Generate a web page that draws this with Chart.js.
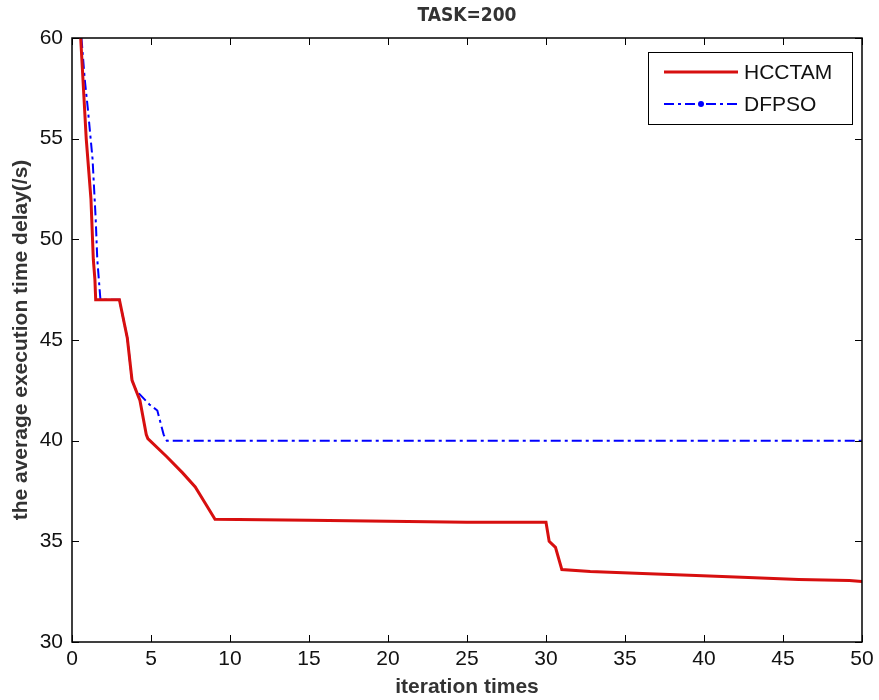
<!DOCTYPE html>
<html>
<head>
<meta charset="utf-8">
<script src="https://cdn.jsdelivr.net/npm/chart.js@4.4.1/dist/chart.umd.min.js"></script>
<style>
  html, body { margin: 0; padding: 0; background: #fff; }
  #wrap { width: 879px; height: 700px; }
</style>
</head>
<body>
<div id="wrap"><canvas id="chart" width="879" height="700"></canvas></div>
<script>
// valores
const hcctamX = [0.55, 0.9, 1.2, 1.35, 1.45, 1.5, 3.0, 3.5, 3.8, 4.3, 4.7, 4.8, 6, 7, 7.8, 8.5, 9.05, 15, 20, 25, 30.0, 30.2, 30.6, 31.0, 32.8, 36.1, 39.5, 42.8, 46.0, 49.2, 50];
const hcctamY = [60, 55, 52, 49, 48, 47, 47, 45.1, 43, 42, 40.3, 40.1, 39.2, 38.4, 37.7, 36.8, 36.1, 36.05, 36.0, 35.95, 35.95, 35.0, 34.7, 33.6, 33.5, 33.4, 33.3, 33.2, 33.1, 33.05, 33.0];
const dfpsoX = [0.6, 0.8, 1.0, 1.3, 1.5, 1.6, 1.8, 3.0, 3.5, 3.8, 4.05, 4.9, 5.4, 5.8, 6.0, 50];
const dfpsoY = [60, 58, 56.5, 54, 51, 49, 47, 47, 45.1, 43, 42.5, 41.8, 41.5, 40.3, 40, 40];
const xTicks = [0, 5, 10, 15, 20, 25, 30, 35, 40, 45, 50];
const yTicks = [30, 35, 40, 45, 50, 55, 60];

const FONT = "'Liberation Sans', Arial, sans-serif";
const NARROW = "'Liberation Sans Narrow', 'Arial Narrow', 'DejaVu Sans Condensed', sans-serif";
const toPts = (xs, ys) => xs.map((x, i) => ({ x, y: ys[i] }));

// caja + marcas hacia dentro (estilo MATLAB) y leyenda
const matlabBox = {
  id: "matlabBox",
  afterDraw(chart) {
    const { ctx, chartArea: a, scales } = chart;
    const len = 7;
    ctx.save();
    ctx.strokeStyle = "#000";
    ctx.lineWidth = 1;
    ctx.beginPath();
    xTicks.forEach((t) => {
      const x = Math.round(scales.x.getPixelForValue(t)) + 0.5;
      ctx.moveTo(x, a.bottom); ctx.lineTo(x, a.bottom - len);
      ctx.moveTo(x, a.top); ctx.lineTo(x, a.top + len);
    });
    yTicks.forEach((t) => {
      const y = Math.round(scales.y.getPixelForValue(t)) + 0.5;
      ctx.moveTo(a.left, y); ctx.lineTo(a.left + len, y);
      ctx.moveTo(a.right, y); ctx.lineTo(a.right - len, y);
    });
    ctx.stroke();
    ctx.lineWidth = 1.5;
    ctx.strokeRect(a.left, a.top, a.right - a.left, a.bottom - a.top);

    // leyenda
    const lx = 648, ly = 52, lw = 204, lh = 72;
    ctx.fillStyle = "#fff";
    ctx.fillRect(lx, ly, lw, lh);
    ctx.lineWidth = 1;
    ctx.strokeRect(lx + 0.5, ly + 0.5, lw, lh);
    chart.data.datasets.forEach((ds, i) => {
      const y = ly + 20 + i * 32;
      ctx.strokeStyle = ds.borderColor;
      ctx.lineWidth = ds.borderWidth;
      ctx.setLineDash(ds.borderDash || []);
      ctx.beginPath();
      ctx.moveTo(lx + 16, y);
      ctx.lineTo(lx + 90, y);
      ctx.stroke();
      ctx.setLineDash([]);
      if (i === 1) {
        ctx.fillStyle = ds.borderColor;
        ctx.beginPath();
        ctx.arc(lx + 53, y, 3, 0, Math.PI * 2);
        ctx.fill();
      }
      ctx.fillStyle = "#111";
      ctx.font = "21px " + FONT;
      ctx.textBaseline = "middle";
      ctx.fillText(ds.label, lx + 96, y + 1);
    });
    ctx.restore();
  },
};

new Chart(document.getElementById("chart"), {
  type: "line",
  data: {
    datasets: [
      {
        label: "HCCTAM",
        data: toPts(hcctamX, hcctamY),
        borderColor: "rgb(215,15,15)",
        borderWidth: 3,
        pointRadius: 0,
        tension: 0,
      },
      {
        label: "DFPSO",
        data: toPts(dfpsoX, dfpsoY),
        borderColor: "#0000ff",
        borderWidth: 2,
        borderDash: [10, 4, 3, 4],
        pointRadius: 0,
        tension: 0,
      },
    ],
  },
  options: {
    responsive: false,
    animation: false,
    layout: { padding: { left: 0, right: 17, top: 0, bottom: 0 } },
    plugins: {
      legend: { display: false },
      tooltip: { enabled: false },
      title: {
        display: true,
        text: "TASK=200",
        fullSize: false,
        color: "#333",
        font: { family: NARROW, size: 19, weight: "bold" },
        padding: { top: 5, bottom: 10.2 },
      },
    },
    scales: {
      x: {
        type: "linear",
        min: 0,
        max: 50,
        afterBuildTicks: (s) => { s.ticks = xTicks.map((v) => ({ value: v })); },
        afterFit: (s) => { s.height = 58; },
        grid: { display: false, drawTicks: false },
        border: { display: false },
        ticks: { color: "#111", font: { family: FONT, size: 21 }, padding: 5, maxRotation: 0 },
        title: {
          display: true,
          text: "iteration times",
          color: "#333",
          font: { family: FONT, size: 21, weight: "bold" },
          padding: { top: 1, bottom: 0 },
        },
      },
      y: {
        min: 30,
        max: 60,
        afterBuildTicks: (s) => { s.ticks = yTicks.map((v) => ({ value: v })); },
        afterFit: (s) => { s.width = 72; },
        grid: { display: false, drawTicks: false },
        border: { display: false },
        ticks: { color: "#111", font: { family: FONT, size: 21 }, padding: 9 },
        title: {
          display: true,
          text: "the average execution time delay(/s)",
          color: "#333",
          font: { family: FONT, size: 21, weight: "bold" },
          padding: { top: 9, bottom: 0 },
        },
      },
    },
  },
  plugins: [matlabBox],
});
</script>
</body>
</html>
